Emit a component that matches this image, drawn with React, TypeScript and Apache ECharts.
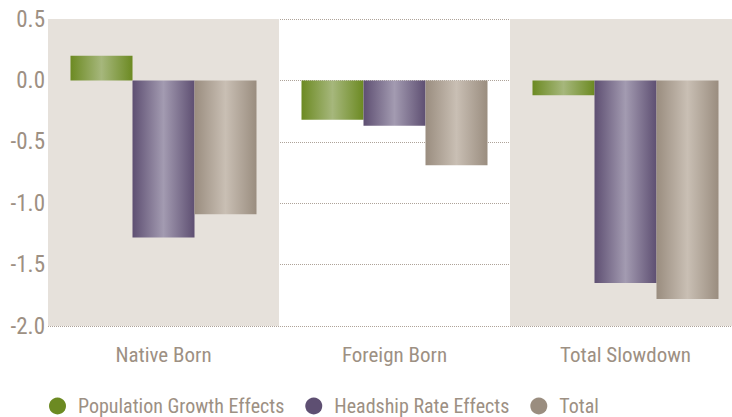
import React, { useEffect, useRef } from "react";
import * as echarts from "echarts";

const categories = ["Native Born", "Foreign Born", "Total Slowdown"];
const populationGrowth = [0.2, -0.32, -0.12];
const headshipRate = [-1.28, -0.37, -1.65];
const totalEffect = [-1.09, -0.69, -1.78];
const seriesNames = ["Population Growth Effects", "Headship Rate Effects", "Total"];
const yTicks = { min: -2, max: 0.5, interval: 0.5 };

const FONT = "'Liberation Sans Narrow', 'Roboto Condensed', 'DejaVu Sans Condensed', sans-serif";
const TEXT = "#9d9083";

const grad = (edge: string, mid: string) =>
  new echarts.graphic.LinearGradient(0, 0, 1, 0, [
    { offset: 0, color: edge },
    { offset: 0.5, color: mid },
    { offset: 1, color: edge },
  ]);

const palette = [
  { edge: "#6c8a22", mid: "#a6b77c" },
  { edge: "#5e4f72", mid: "#a39bb1" },
  { edge: "#9a8d7f", mid: "#c9bfb4" },
];

export default function App() {
  const ref = useRef<HTMLDivElement>(null);
  useEffect(() => {
    if (!ref.current) return;
    const chart = echarts.init(ref.current, undefined, { renderer: "svg" });
    const data = [populationGrowth, headshipRate, totalEffect];
    chart.setOption({
      animation: false,
      backgroundColor: "#ffffff",
      grid: { left: 48, top: 19, right: 0, height: 307 },
      xAxis: {
        type: "category",
        data: categories,
        axisLine: { show: false },
        axisTick: { show: false },
        splitLine: { show: false },
        splitArea: { show: true, areaStyle: { color: ["#e6e1db", "rgba(255,255,255,0)"] } },
        axisLabel: { color: TEXT, fontFamily: FONT, fontSize: 21, margin: 18 },
      },
      yAxis: {
        type: "value",
        min: yTicks.min,
        max: yTicks.max,
        interval: yTicks.interval,
        axisLine: { show: false },
        axisTick: { show: false },
        splitLine: { show: true, lineStyle: { color: "#aea399", type: [1, 1], width: 1 } },
        axisLabel: {
          color: TEXT,
          fontFamily: FONT,
          fontSize: 23,
          margin: 3,
          formatter: (v: number) => v.toFixed(1),
        },
      },
      legend: {
        left: 49,
        top: 396,
        padding: 0,
        icon: "circle",
        itemWidth: 17,
        itemHeight: 17,
        itemGap: 21,
        textStyle: { color: TEXT, fontFamily: FONT, fontSize: 20, padding: [0, 0, 0, 7] },
        data: seriesNames.map((n, i) => ({ name: n, itemStyle: { color: palette[i].edge } })),
      },
      series: seriesNames.map((n, i) => ({
        name: n,
        type: "bar",
        data: data[i],
        barWidth: 62,
        barGap: "0%",
        itemStyle: { color: grad(palette[i].edge, palette[i].mid) },
      })),
    });
    return () => chart.dispose();
  }, []);
  return (
    <div style={{ position: "fixed", left: 0, top: 0, width: 732, height: 417, overflow: "hidden" }}>
      <div ref={ref} style={{ width: 741, height: 417 }} />
    </div>
  );
}
